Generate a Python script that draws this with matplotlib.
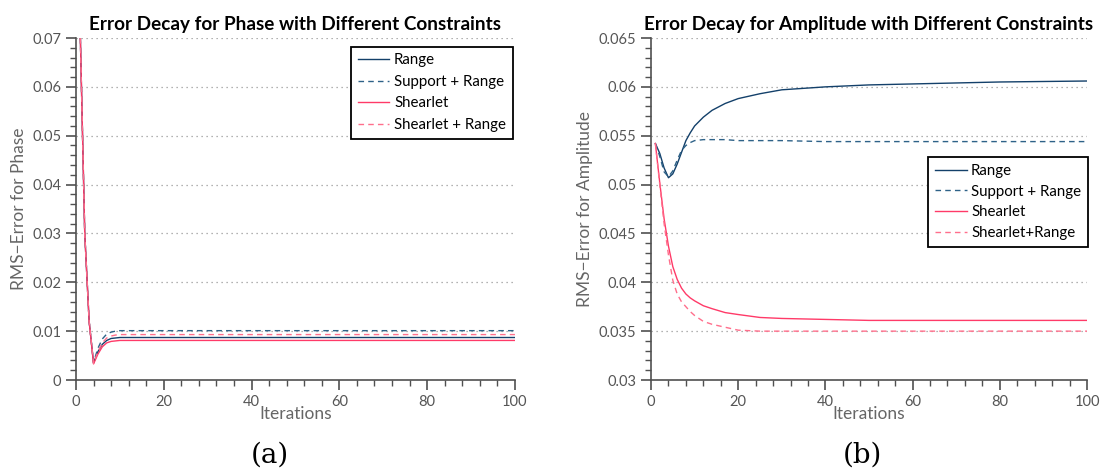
import matplotlib.pyplot as plt
from matplotlib.ticker import MultipleLocator

plt.rcParams['font.family'] = ['Lato', 'DejaVu Sans']

iters = [1, 2, 3, 4, 5, 6, 7, 8, 9, 10, 12, 14, 17, 20, 25, 30, 40, 50, 60, 70, 80, 100]

# phase error
ph_range = [0.070, 0.030, 0.012, 0.0035, 0.0058, 0.0073, 0.0081, 0.0085, 0.0086, 0.0087, 0.0087,
            0.0087, 0.0087, 0.0087, 0.0087, 0.0087, 0.0087, 0.0087, 0.0087, 0.0087, 0.0087, 0.0087]
ph_supp = [0.070, 0.030, 0.012, 0.0036, 0.0065, 0.0084, 0.0094, 0.0098, 0.0100, 0.0101, 0.0101,
           0.0101, 0.0101, 0.0101, 0.0101, 0.0101, 0.0101, 0.0101, 0.0101, 0.0101, 0.0101, 0.0101]
ph_shear = [0.070, 0.030, 0.012, 0.0033, 0.0053, 0.0068, 0.0076, 0.0079, 0.0080, 0.0081, 0.0081,
            0.0081, 0.0081, 0.0081, 0.0081, 0.0081, 0.0081, 0.0081, 0.0081, 0.0081, 0.0081, 0.0081]
ph_shear_r = [0.070, 0.030, 0.012, 0.0034, 0.0058, 0.0076, 0.0086, 0.0090, 0.0092, 0.0093, 0.0093,
              0.0093, 0.0093, 0.0093, 0.0093, 0.0093, 0.0093, 0.0093, 0.0093, 0.0093, 0.0093, 0.0093]

# amplitude error
am_range = [0.0542, 0.0532, 0.0517, 0.0507, 0.0511, 0.0521, 0.0533, 0.0545, 0.0553, 0.0560, 0.0569,
            0.0576, 0.0583, 0.0588, 0.0593, 0.0597, 0.0600, 0.0602, 0.0603, 0.0604, 0.0605, 0.0606]
am_supp = [0.0542, 0.0529, 0.0513, 0.0508, 0.0514, 0.0525, 0.0535, 0.0540, 0.0543, 0.0545, 0.0546,
           0.0546, 0.0546, 0.0545, 0.0545, 0.0545, 0.0544, 0.0544, 0.0544, 0.0544, 0.0544, 0.0544]
am_shear = [0.0542, 0.0502, 0.0465, 0.0437, 0.0416, 0.0403, 0.0394, 0.0388, 0.0384, 0.0381, 0.0376,
            0.0373, 0.0369, 0.0367, 0.0364, 0.0363, 0.0362, 0.0361, 0.0361, 0.0361, 0.0361, 0.0361]
am_shear_r = [0.0542, 0.0500, 0.0460, 0.0428, 0.0402, 0.0388, 0.0380, 0.0375, 0.0370, 0.0366, 0.0360,
              0.0357, 0.0354, 0.0351, 0.0350, 0.0350, 0.0350, 0.0350, 0.0350, 0.0350, 0.0350, 0.0350]

ph_ticks = [0, 0.01, 0.02, 0.03, 0.04, 0.05, 0.06, 0.07]
ph_labels = ['0', '0.01', '0.02', '0.03', '0.04', '0.05', '0.06', '0.07']
am_ticks = [0.03, 0.035, 0.04, 0.045, 0.05, 0.055, 0.06, 0.065]
am_labels = ['0.03', '0.035', '0.04', '0.045', '0.05', '0.055', '0.06', '0.065']

navy = '#13406a'
blue = '#2e6288'
red = '#ff3a68'
pink = '#ff6f8c'
gray = '#505050'

fig = plt.figure(figsize=(11.01, 4.74), dpi=100)
ax1 = fig.add_axes([0.069, 0.1983, 0.3987, 0.7215])
ax2 = fig.add_axes([0.5913, 0.1983, 0.396, 0.7215])


def style(ax, ticks, labels, ylo, yhi, yminor):
    ax.set_xlim(0, 100)
    ax.set_ylim(ylo, yhi)
    ax.set_yticks(ticks)
    ax.set_yticklabels(labels)
    ax.set_xticks([0, 20, 40, 60, 80, 100])
    ax.xaxis.set_minor_locator(MultipleLocator(4))
    ax.yaxis.set_minor_locator(MultipleLocator(yminor))
    for s in ['top', 'right']:
        ax.spines[s].set_visible(False)
    for s in ['left', 'bottom']:
        ax.spines[s].set_color(gray)
        ax.spines[s].set_linewidth(1.2)
    ax.tick_params(which='major', direction='out', length=7, width=1.2, color=gray,
                   labelcolor='#555555', labelsize=10.5)
    ax.tick_params(which='minor', direction='out', length=4, width=1.0, color=gray)
    ax.yaxis.grid(True, which='major', linestyle=(0, (1, 3)), color='#999999', linewidth=0.9)
    ax.set_xlabel('Iterations', color='#666666', fontsize=12.5, labelpad=-2)


ax1.plot(iters, ph_range, color=navy, lw=1.0, label='Range')
ax1.plot(iters, ph_supp, color=blue, lw=1.0, ls=(0, (4, 3)), label='Support + Range')
ax1.plot(iters, ph_shear, color=red, lw=1.0, label='Shearlet')
ax1.plot(iters, ph_shear_r, color=pink, lw=1.0, ls=(0, (4, 3)), label='Shearlet + Range')
style(ax1, ph_ticks, ph_labels, 0, 0.07, 0.002)
ax1.set_ylabel('RMS\u2212Error for Phase', color='#666666', fontsize=12.5, labelpad=4)
ax1.set_title('Error Decay for Phase with Different Constraints', fontsize=13.6, fontweight='bold', pad=6)
leg1 = ax1.legend(loc='upper right', bbox_to_anchor=(0.995, 0.975), fontsize=10.8, fancybox=False,
                  edgecolor='black', framealpha=1, handlelength=2.1, handletextpad=0.3,
                  borderpad=0.45, labelspacing=0.5, borderaxespad=0)
leg1.get_frame().set_linewidth(1.3)

ax2.plot(iters, am_range, color=navy, lw=1.0, label='Range')
ax2.plot(iters, am_supp, color=blue, lw=1.0, ls=(0, (4, 3)), label='Support + Range')
ax2.plot(iters, am_shear, color=red, lw=1.0, label='Shearlet')
ax2.plot(iters, am_shear_r, color=pink, lw=1.0, ls=(0, (4, 3)), label='Shearlet+Range')
style(ax2, am_ticks, am_labels, 0.03, 0.065, 0.001)
ax2.set_ylabel('RMS\u2212Error for Amplitude', color='#666666', fontsize=12.5, labelpad=4)
ax2.set_title('Error Decay for Amplitude with Different Constraints', fontsize=13.6, fontweight='bold',
              pad=6)
leg2 = ax2.legend(loc='upper right', bbox_to_anchor=(1.002, 0.652), fontsize=10.8, fancybox=False,
                  edgecolor='black', framealpha=1, handlelength=2.1, handletextpad=0.3,
                  borderpad=0.45, labelspacing=0.45, borderaxespad=0)
leg2.get_frame().set_linewidth(1.3)

fig.text(0.245, 0.025, '(a)', fontsize=20, family='DejaVu Serif', ha='center')
fig.text(0.783, 0.025, '(b)', fontsize=20, family='DejaVu Serif', ha='center')

fig.savefig('out.png', dpi=100)
